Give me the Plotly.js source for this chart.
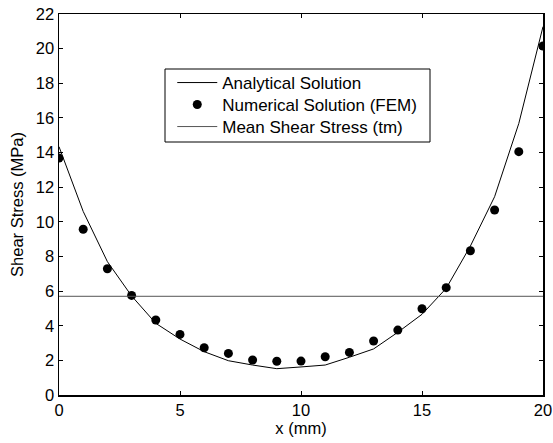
<!DOCTYPE html>
<html>
<head>
<meta charset="utf-8">
<script src="https://cdn.plot.ly/plotly-3.0.1.min.js"></script>
<style>html,body{margin:0;padding:0;background:#fff;}#chart{width:553px;height:443px;}</style>
</head>
<body>
<div id="chart"></div>
<script>
var xPos = [0,1,2,3,4,5,6,7,8,9,10,11,12,13,14,15,16,17,18,19,20];
var analytical = [14.34,10.6,7.70,5.72,4.14,3.23,2.50,1.98,1.73,1.52,1.62,1.73,2.18,2.66,3.62,4.66,6.16,8.6,11.45,15.68,21.27];
var numerical = [13.68,9.57,7.29,5.75,4.33,3.50,2.73,2.40,2.02,1.95,1.96,2.21,2.46,3.12,3.75,4.98,6.20,8.33,10.68,14.05,20.15];
var meanX = [0,20];
var meanStress = [5.70,5.70];
var xTicks = [0,5,10,15,20];
var yTicks = [0,2,4,6,8,10,12,14,16,18,20,22];

var font = {family:'Liberation Sans, Arial, sans-serif', size:16.5, color:'#000'};
var legFont = {family:'Liberation Sans, Arial, sans-serif', size:17, color:'#000'};
var traces = [
  {x:xPos, y:analytical, mode:'lines', name:'Analytical Solution', line:{color:'#000', width:1}, legend:'legend'},
  {x:xPos, y:numerical, mode:'markers', name:'Numerical Solution (FEM)', marker:{color:'#000', size:9}, legend:'legend2'},
  {x:meanX, y:meanStress, mode:'lines', name:'Mean Shear Stress (tm)', line:{color:'#555', width:1}, legend:'legend3'}
];
function leg(yc){
  return {x:0.234, y:(395-yc)/381, xanchor:'left', yanchor:'middle', bgcolor:'rgba(0,0,0,0)', borderwidth:0, font:legFont, itemwidth:40};
}
var axisCommon = {showgrid:false, zeroline:false, showline:true, linecolor:'#000', linewidth:1.5, mirror:'ticks', ticks:'inside', ticklen:4, tickcolor:'#000', tickfont:font};
var layout = {
  width:553, height:443,
  margin:{l:59, r:10, t:14, b:48},
  paper_bgcolor:'#fff', plot_bgcolor:'#fff',
  font:font,
  showlegend:true,
  legend:leg(83), legend2:leg(105), legend3:leg(127),
  shapes:[{type:'rect', xref:'paper', yref:'paper', x0:(165-59)/484, x1:(430-59)/484, y0:(395-142)/381, y1:(395-69)/381, line:{color:'#000', width:1}, fillcolor:'#fff', layer:'above'}],
  xaxis:Object.assign({}, axisCommon, {range:[0,20], tickvals:xTicks, ticktext:xTicks.map(String), title:{text:'x (mm)', font:font, standoff:2}}),
  yaxis:Object.assign({}, axisCommon, {range:[0,22], tickvals:yTicks, ticktext:yTicks.map(String), title:{text:'Shear Stress (MPa)', font:font, standoff:8}})
};
Plotly.newPlot('chart', traces, layout, {displayModeBar:false, staticPlot:true});
</script>
</body>
</html>
